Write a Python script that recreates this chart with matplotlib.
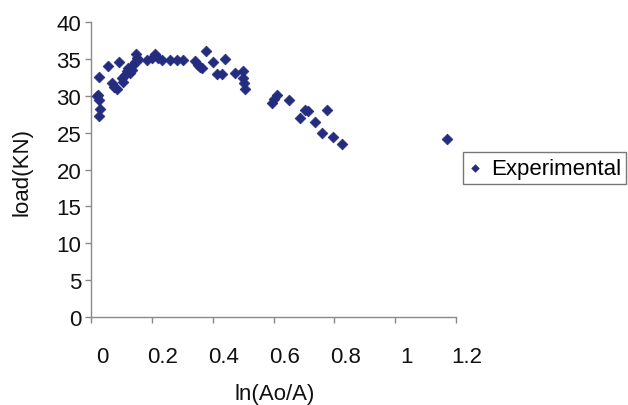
import matplotlib
matplotlib.use("Agg")
import matplotlib.pyplot as plt
import matplotlib.transforms as mtransforms
import numpy as np

plt.rcParams['font.family'] = ['Liberation Sans', 'DejaVu Sans']

# Data (ln(Ao/A), load in kN)
strain = [0.019, 0.024, 0.028, 0.025, 0.027, 0.027, 0.057, 0.093,
          0.068, 0.077, 0.084, 0.101, 0.106, 0.112, 0.117, 0.123, 0.128,
          0.134, 0.139, 0.145, 0.150, 0.148, 0.155,
          0.183, 0.200, 0.210, 0.221, 0.233, 0.260, 0.282, 0.304,
          0.342, 0.353, 0.359, 0.364, 0.378, 0.402, 0.441, 0.413, 0.430,
          0.474, 0.500, 0.500, 0.503, 0.507,
          0.594, 0.602, 0.611, 0.652, 0.688, 0.704, 0.715, 0.737, 0.759,
          0.777, 0.794, 0.825, 1.170]
load = [29.9, 30.1, 28.2, 27.3, 32.6, 29.4, 34.0, 34.6,
        31.7, 31.2, 30.9, 32.4, 31.9, 32.8, 33.3, 33.7, 33.1,
        33.5, 34.2, 34.6, 35.1, 35.7, 34.8,
        34.9, 35.1, 35.6, 35.1, 34.9, 34.9, 34.9, 34.9,
        34.7, 34.2, 33.9, 33.7, 36.1, 34.6, 35.0, 33.0, 33.0,
        33.1, 33.3, 32.4, 31.7, 30.9,
        29.0, 29.6, 30.1, 29.4, 27.0, 28.1, 28.0, 26.5, 25.0,
        28.1, 24.4, 23.4, 24.1]

xticks = [0, 0.2, 0.4, 0.6, 0.8, 1.0, 1.2]
xticklabels = ['0', '0.2', '0.4', '0.6', '0.8', '1', '1.2']
yticks = [0, 5, 10, 15, 20, 25, 30, 35, 40]

W, H = 628, 406
fig = plt.figure(figsize=(W / 100, H / 100), dpi=100)
ax = fig.add_axes([91 / W, 1 - 318 / H, (456 - 91) / W, (318 - 23) / H])

ax.scatter(strain, load, marker='D', s=30, color='#232c7e', edgecolors='#232c7e',
           linewidths=0.5, label='Experimental', zorder=3, clip_on=False)

ax.set_xlim(0, 1.2)
ax.set_ylim(0, 40)
ax.set_xticks(xticks)
ax.set_xticklabels(xticklabels)
ax.set_yticks(yticks)

for s in ['top', 'right']:
    ax.spines[s].set_visible(False)
for s in ['left', 'bottom']:
    ax.spines[s].set_color('#8a8a8a')
    ax.spines[s].set_linewidth(1.0)

ax.tick_params(axis='both', colors='#8a8a8a', labelcolor='#111111',
               labelsize=16, length=4, width=1.0, direction='out')
ax.tick_params(axis='x', pad=17)
ax.tick_params(axis='y', pad=3)

# shift x tick labels to the right as in the reference
offset = mtransforms.ScaledTranslation(11 / 100, 0, fig.dpi_scale_trans)
for lbl in ax.get_xticklabels():
    lbl.set_transform(lbl.get_transform() + offset)

fig.text(275 / W, 1 - 395 / H, 'ln(Ao/A)', ha='center', va='center',
         fontsize=16, color='#111111')
fig.text(22 / W, 1 - 172 / H, 'load(KN)', ha='center', va='center',
         rotation=90, fontsize=16, color='#111111')

leg = ax.legend(loc='upper left', bbox_to_anchor=(463 / W, 1 - 153 / H),
                bbox_transform=fig.transFigure, fontsize=16, frameon=True,
                fancybox=False, handlelength=0.6, handletextpad=0.4,
                borderpad=0.25, borderaxespad=0, markerscale=0.7)
leg.get_frame().set_edgecolor('#555555')
leg.get_frame().set_linewidth(1.0)

fig.savefig('out.png', dpi=100)
